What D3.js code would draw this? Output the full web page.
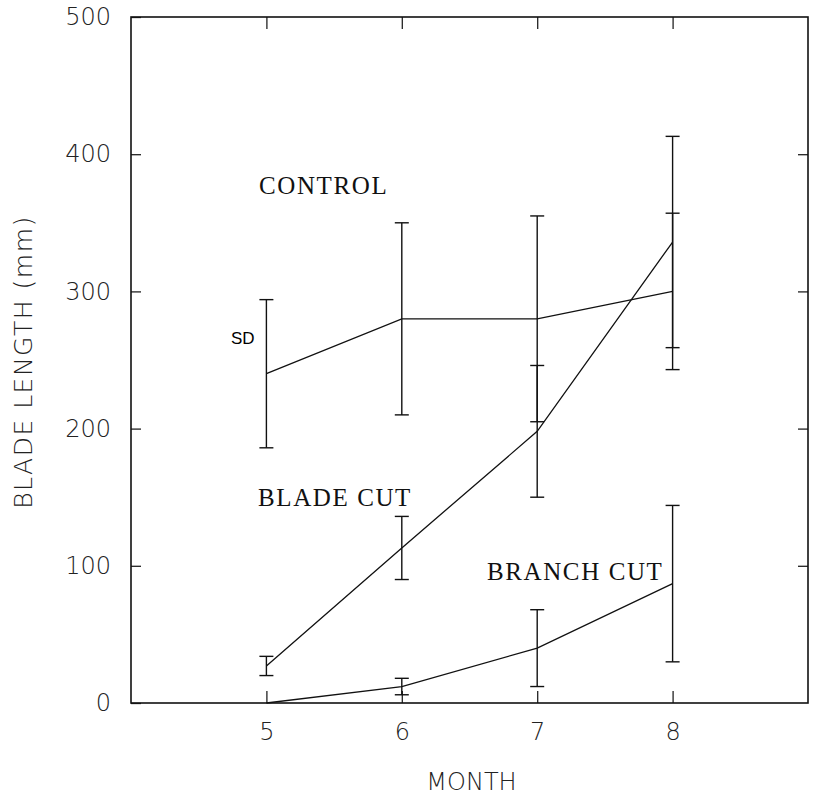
<!DOCTYPE html>
<html lang="en">
<head>
    <meta charset="UTF-8">
    <title>Blade length</title>
    <script src="https://d3js.org/d3.v7.min.js"></script>
    <style>
        body { margin: 0; background: #fff; }
        .tick text, .axis-title {
            font-family: 'DejaVu Sans', sans-serif;
            font-weight: 200;
            fill: #222;
        }
        .label {
            font-family: 'Liberation Serif', serif;
            fill: #111;
        }
    </style>
</head>
<body>
<script>

    const width  = 813;
    const height = 797;

    const months       = [5, 6, 7, 8];
    const controlMean  = [240, 280, 280, 300];
    const controlSD    = [54, 70, 75, 57];
    const bladeMean    = [27, 113, 198, 336];
    const bladeSD      = [7, 23, 48, 77];
    const branchMean   = [0, 12, 40, 87];
    const branchSD     = [0, 6, 28, 57];
    const yTicks       = [0, 100, 200, 300, 400, 500];

    const series = [
        {name: 'CONTROL',    mean: controlMean, sd: controlSD},
        {name: 'BLADE CUT',  mean: bladeMean,   sd: bladeSD},
        {name: 'BRANCH CUT', mean: branchMean,  sd: branchSD}
    ];

    const x = d3.scaleLinear().domain([4, 9]).range([131, 808]);
    const y = d3.scaleLinear().domain([0, 500]).range([703, 17]);

    const svg = d3.select("body")
            .append("svg")
            .attr("width", width)
            .attr("height", height);

    // axes, ticks pointing inward
    svg.append("g")
            .attr("transform", "translate(" + x(4) + ",0)")
            .call(d3.axisLeft(y).tickValues(yTicks).tickSize(-10).tickPadding(20));
    svg.append("g")
            .attr("transform", "translate(0," + y(0) + ")")
            .call(d3.axisBottom(x).tickValues(months).tickFormat(d3.format("d"))
                    .tickSize(-12).tickPadding(20));
    svg.append("g")
            .attr("transform", "translate(0," + y(500) + ")")
            .call(d3.axisTop(x).tickValues(months).tickSize(-12).tickFormat(""));
    svg.append("g")
            .attr("transform", "translate(" + x(9) + ",0)")
            .call(d3.axisRight(y).tickValues(yTicks.slice(1, 5)).tickSize(-10).tickFormat(""));

    svg.selectAll(".domain").remove();
    svg.selectAll(".tick line").attr("stroke", "#222").attr("stroke-width", 1.3);
    svg.selectAll(".tick text").attr("font-size", 24);

    svg.append("rect")
            .attr("x", x(4)).attr("y", y(500))
            .attr("width", x(9) - x(4)).attr("height", y(0) - y(500))
            .attr("fill", "none").attr("stroke", "#111").attr("stroke-width", 1.6);

    const line = d3.line()
            .x((d, i) => x(months[i]))
            .y(d => y(d));

    series.forEach(s => {
        svg.append("path")
                .datum(s.mean)
                .attr("d", line)
                .attr("fill", "none")
                .attr("stroke", "#111")
                .attr("stroke-width", 1.3);

        const bars = svg.append("g")
                .selectAll("g")
                .data(s.mean.map((m, i) => ({m: m, sd: s.sd[i], month: months[i]})).filter(d => d.sd > 0))
                .enter().append("g")
                .attr("stroke", "#111")
                .attr("stroke-width", 1.4);

        bars.append("line")
                .attr("x1", d => x(d.month)).attr("x2", d => x(d.month))
                .attr("y1", d => y(d.m - d.sd)).attr("y2", d => y(d.m + d.sd));
        bars.append("line")
                .attr("x1", d => x(d.month) - 7).attr("x2", d => x(d.month) + 7)
                .attr("y1", d => y(d.m + d.sd)).attr("y2", d => y(d.m + d.sd));
        bars.append("line")
                .attr("x1", d => x(d.month) - 7).attr("x2", d => x(d.month) + 7)
                .attr("y1", d => y(d.m - d.sd)).attr("y2", d => y(d.m - d.sd));
    });

    // series labels
    svg.append("text").attr("class", "label")
            .attr("x", 259).attr("y", 194)
            .attr("font-size", 25).attr("letter-spacing", 1.6)
            .text("CONTROL");
    svg.append("text").attr("class", "label")
            .attr("x", 258).attr("y", 506)
            .attr("font-size", 25).attr("letter-spacing", 1.6)
            .text("BLADE CUT");
    svg.append("text").attr("class", "label")
            .attr("x", 487).attr("y", 580)
            .attr("font-size", 25).attr("letter-spacing", 1.6)
            .text("BRANCH CUT");
    svg.append("text")
            .attr("x", 231).attr("y", 344)
            .attr("font-family", "'Liberation Sans', sans-serif")
            .attr("font-size", 17)
            .text("SD");

    // axis titles
    svg.append("text").attr("class", "axis-title")
            .attr("x", (x(4) + x(9)) / 2 + 2).attr("y", 790)
            .attr("text-anchor", "middle")
            .attr("font-size", 24)
            .text("MONTH");
    svg.append("text").attr("class", "axis-title")
            .attr("transform", "translate(32,362) rotate(-90)")
            .attr("text-anchor", "middle")
            .attr("font-size", 25)
            .attr("letter-spacing", 1.5)
            .text("BLADE LENGTH (mm)");

</script>
</body>
</html>
